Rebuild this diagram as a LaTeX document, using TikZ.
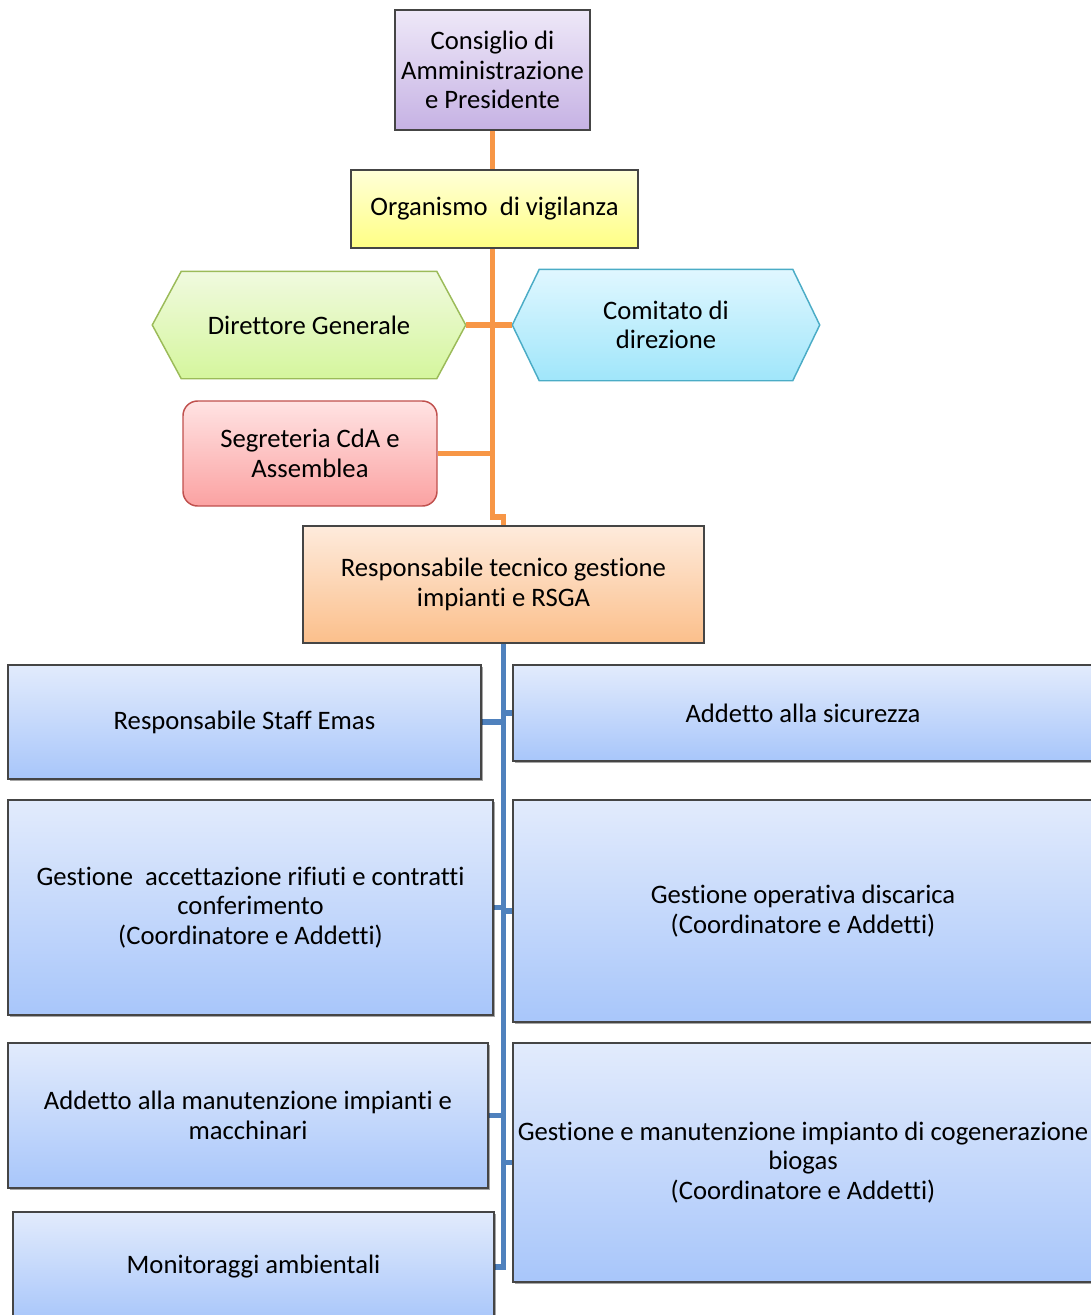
\documentclass[tikz,border=0pt]{standalone}
\usepackage{fontspec}
\setmainfont{Carlito}[Ligatures={NoCommon}]
\usetikzlibrary{backgrounds,shadows,calc}

\definecolor{linkorange}{HTML}{F79646}
\definecolor{linkblue}{HTML}{4F81BD}
\definecolor{edgegray}{HTML}{454545}
\definecolor{purpletop}{HTML}{EEE8F8}
\definecolor{purplebot}{HTML}{C6B2E4}
\definecolor{yellowtop}{HTML}{FFFFD8}
\definecolor{yellowbot}{HTML}{FFFF84}
\definecolor{rededge}{HTML}{C0504D}
\definecolor{redtop}{HTML}{FFE3E3}
\definecolor{redbot}{HTML}{FBA2A2}
\definecolor{orangetop}{HTML}{FEEBDC}
\definecolor{orangebot}{HTML}{FBBF8B}
\definecolor{bluetop}{HTML}{E2EBFC}
\definecolor{bluebot}{HTML}{A8C6FA}
\definecolor{greenedge}{HTML}{9BBB59}
\definecolor{greentop}{HTML}{F0FADF}
\definecolor{greenbot}{HTML}{D5F69D}
\definecolor{cyanedge}{HTML}{4BACC6}
\definecolor{cyantop}{HTML}{E0F7FF}
\definecolor{cyanbot}{HTML}{A0E6FA}

% box from corner (x1,y1) to (x2,y2), coordinates in px, y downwards
\newcommand\orgbox[7]{%
  \node[#2, minimum width={(#5-#3)*0.75pt}, minimum height={(#6-#4)*0.75pt}]
    (#1) at ({(#3+#5)/2},{(#4+#6)/2}) {#7};}

\tikzset{
  basebox/.style={rectangle, inner sep=1pt, align=center, line width=1.1pt,
    font=\fontsize{20}{22.2}\selectfont, text=black},
  purplebox/.style={basebox, draw=edgegray, top color=purpletop, bottom color=purplebot},
  yellowbox/.style={basebox, draw=edgegray, top color=yellowtop, bottom color=yellowbot},
  redbox/.style={basebox, draw=rededge, rounded corners=11pt, top color=redtop, bottom color=redbot},
  orangebox/.style={basebox, draw=edgegray, top color=orangetop, bottom color=orangebot},
  bluebox/.style={basebox, draw=edgegray, top color=bluetop, bottom color=bluebot,
    drop shadow={shadow xshift=1.2pt, shadow yshift=-1.2pt, opacity=0.35, fill=black}},
  hexlabel/.style={basebox, draw=none},
  orangelink/.style={draw=linkorange, line width=3.8pt},
  bluelink/.style={draw=linkblue, line width=3.8pt},
}

\begin{document}
\begin{tikzpicture}[x=0.75pt, y=-0.75pt]
\useasboundingbox (0,0) rectangle (1090,1315);

% upper part of the chart
\orgbox{cda}{purplebox}{395}{10}{590}{130}{Consiglio di\\Amministrazione\\e Presidente}
\orgbox{odv}{yellowbox}{351}{170}{638}{248}{Organismo\ \ di vigilanza}

% hexagonal nodes: label node spans tip to tip, outline drawn around it
\orgbox{dg}{hexlabel}{153}{272}{465}{378}{Direttore Generale}
\orgbox{cd}{hexlabel}{513}{270}{819}{380}{Comitato di\\direzione}

\orgbox{sg}{redbox}{183}{401}{437}{506}{Segreteria CdA e\\Assemblea}
\orgbox{rt}{orangebox}{303}{526}{704}{643}{Responsabile tecnico gestione\\impianti e RSGA}

% staff boxes
\orgbox{staff}{bluebox}{8}{665}{481}{779}{Responsabile Staff Emas}
\orgbox{sic}{bluebox}{513}{665}{1093}{761}{Addetto alla sicurezza}
\orgbox{acc}{bluebox}{8}{800}{493}{1015}{Gestione\ \ accettazione rifiuti e contratti\\conferimento\\(Coordinatore e Addetti)}
\orgbox{disc}{bluebox}{513}{800}{1093}{1022}{Gestione operativa discarica\\(Coordinatore e Addetti)}
\orgbox{man}{bluebox}{8}{1043}{488}{1188}{Addetto alla manutenzione impianti e\\macchinari}
\orgbox{cog}{bluebox}{513}{1043}{1093}{1282}{Gestione e manutenzione impianto di cogenerazione\\biogas\\(Coordinatore e Addetti)}
\orgbox{mon}{bluebox}{13}{1212}{494}{1322}{Monitoraggi ambientali}

\begin{scope}[on background layer]
  % hexagon outlines
  \path[draw=greenedge, line width=1.1pt, top color=greentop, bottom color=greenbot]
    (dg.west) -- ($(dg.north west)+(29,0)$) -- ($(dg.north east)+(-29,0)$) -- (dg.east)
    -- ($(dg.south east)+(-29,0)$) -- ($(dg.south west)+(29,0)$) -- cycle;
  \path[draw=cyanedge, line width=1.1pt, top color=cyantop, bottom color=cyanbot]
    (cd.west) -- ($(cd.north west)+(27,0)$) -- ($(cd.north east)+(-27,0)$) -- (cd.east)
    -- ($(cd.south east)+(-27,0)$) -- ($(cd.south west)+(27,0)$) -- cycle;

  % governance links
  \coordinate (jog) at (492.5,517);
  \draw[orangelink] (cda.south) -- (jog) -| (rt.north);
  \draw[orangelink] (dg.east) -- (cd.west);
  \draw[orangelink] (sg.east) -- (sg.east -| cda.south);

  % staff links
  \draw[bluelink] (rt.south) |- (mon.east);
  \draw[bluelink] (staff.east) -- (staff.east -| rt.south);
  \draw[bluelink] (sic.west) -- (sic.west -| rt.south);
  \draw[bluelink] (acc.east) -- (acc.east -| rt.south);
  \draw[bluelink] (disc.west) -- (disc.west -| rt.south);
  \draw[bluelink] (man.east) -- (man.east -| rt.south);
  \draw[bluelink] (cog.west) -- (cog.west -| rt.south);
\end{scope}
\end{tikzpicture}
\end{document}
